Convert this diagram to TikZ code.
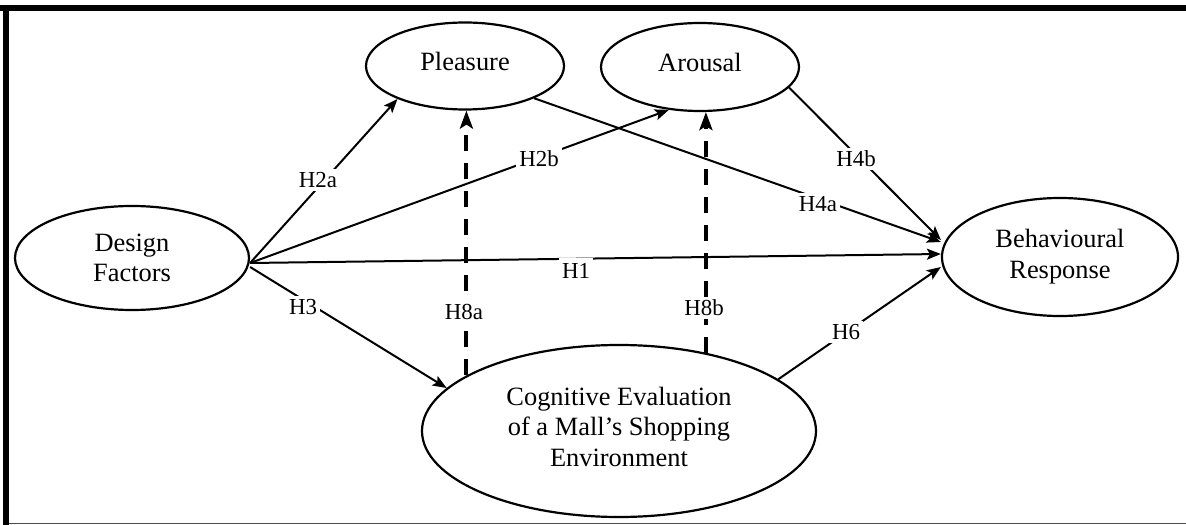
\documentclass[tikz,border=0pt]{standalone}
\usepackage{fontspec}
\setmainfont{Liberation Serif}
\usetikzlibrary{shapes.geometric,arrows.meta,calc}
\begin{document}
\begin{tikzpicture}[x=1bp,y=-1bp,
  ell/.style={ellipse, draw, line width=2.2bp, inner sep=0pt, align=center,
    font=\fontsize{26.5}{30.5}\selectfont},
  arr/.style={line width=2bp, -{Stealth[length=14bp,width=11bp,inset=3bp]}},
  darr/.style={line width=4bp, dash pattern=on 16bp off 12bp,
    -{Stealth[length=18bp,width=13bp,inset=4bp]}},
  lab/.style={fill=white, inner sep=3bp, font=\fontsize{23}{27}\selectfont},
]
\useasboundingbox (0,0) rectangle (1186,525);
% frame
\fill (0,5) rectangle (1186,11);
\fill (3,5) rectangle (9,525);
\draw[line width=1.2bp, black!70] (9,523.5) -- (1186,523.5);

% nodes
\node[ell, minimum width=234bp, minimum height=104bp] (D) at (132,258) {Design\\Factors};
\node[ell, minimum width=198bp, minimum height=87bp, text depth=9bp] (P) at (465,66) {Pleasure};
\node[ell, minimum width=198bp, minimum height=88bp, text depth=9bp] (A) at (700,67) {Arousal};
\node[ell, minimum width=236bp, minimum height=118bp, text depth=6bp] (B) at (1060,257) {Behavioural\\Response};
\node[ell, minimum width=394bp, minimum height=172bp, text depth=9bp] (C) at (619,431) {Cognitive Evaluation\\of a Mall’s Shopping\\Environment};

% connectors
\draw[arr] ([yshift=-5bp]D.east) -- (P.206);
\draw[arr] ([yshift=-5bp]D.east) -- (A.234);
\draw[arr] ([yshift=-5bp]D.east) -- ([yshift=3bp]B.west);
\draw[arr] ([yshift=-9bp]D.east) -- (C.166);
\draw[arr] (P.335) -- ([yshift=15bp]B.west);
\draw[arr] (A.347) -- ([yshift=17bp]B.west);
\draw[arr] (C.18) -- ([yshift=-10bp]B.west);
\draw[darr] (C.160) -- (C.160 |- P.south);
\draw[darr] (C.42) -- (C.42 |- A.south);

% labels
\node[lab] (l2a) at (318,180) {H2a};
\node[lab] (l2b) at (539,159) {H2b};
\node[lab, inner ysep=5bp] (l1) at (576,271) {H1};
\node[lab] (l3) at (303,307) {H3};
\node[lab] (l8a) at (464,312) {H8a};
\node[lab] (l8b) at (704,308) {H8b};
\node[lab] (l4a) at (818,204) {H4a};
\node[lab] (l4b) at (856,159) {H4b};
\node[lab] (l6) at (846,332) {H6};
\end{tikzpicture}
\end{document}
